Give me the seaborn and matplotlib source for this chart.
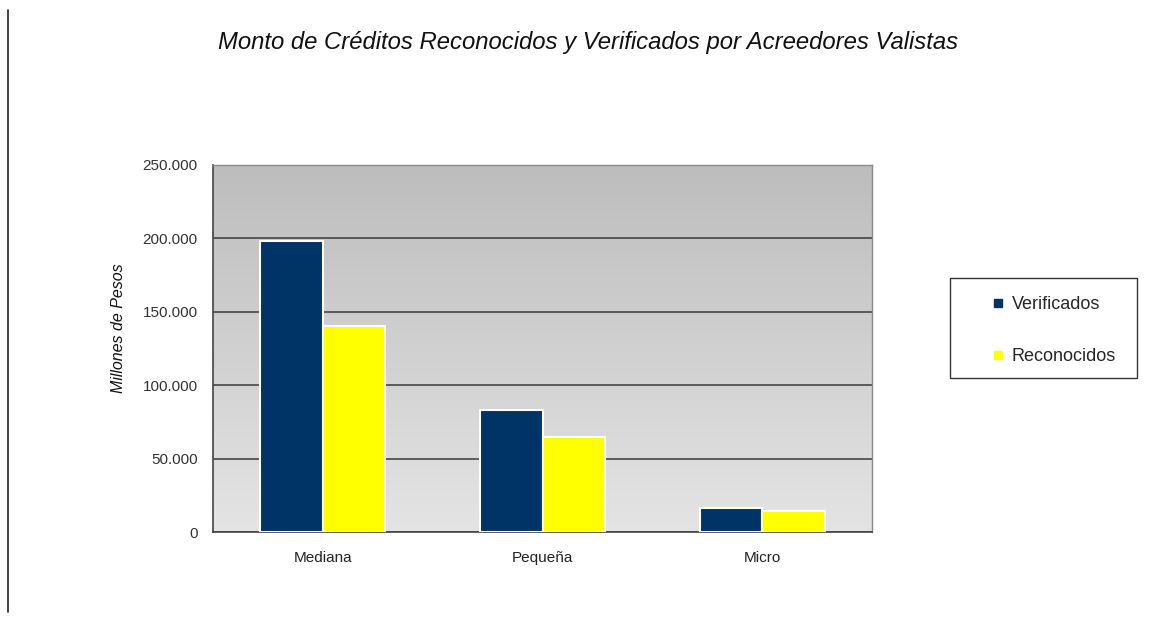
import numpy as np
import pandas as pd
import matplotlib
matplotlib.use("Agg")
import matplotlib.pyplot as plt
import matplotlib.ticker as mticker
from matplotlib.patches import Rectangle
from matplotlib.lines import Line2D
import seaborn as sns

# Data (millones de pesos)
categorias = ["Mediana", "Pequeña", "Micro"]
verificados = [198500, 83000, 16500]
reconocidos = [140000, 65000, 14500]
series = ["Verificados", "Reconocidos"]
colores = ["#003366", "#FFFF00"]
y_ticks = [0, 50000, 100000, 150000, 200000, 250000]

df = pd.DataFrame({
    "categoria": categorias * 2,
    "serie": [series[0]] * 3 + [series[1]] * 3,
    "monto": verificados + reconocidos,
})

sns.set_style("white")
plt.rcParams["font.family"] = ["Liberation Sans", "DejaVu Sans"]

fig = plt.figure(figsize=(11.54, 6.25), dpi=100)
ax = fig.add_axes([213 / 1154, 1 - 532 / 625, (872 - 213) / 1154, (532 - 165) / 625])

# gradient background of the plot area
grad = np.linspace(0, 1, 256).reshape(-1, 1)
cmap = matplotlib.colors.LinearSegmentedColormap.from_list("bg", ["#bdbdbd", "#e4e4e4"])
ax.imshow(grad, aspect="auto", cmap=cmap, extent=[0, 1, 0, 1],
          transform=ax.transAxes, zorder=-2, origin="upper")

sns.barplot(data=df, x="categoria", y="monto", hue="serie", order=categorias,
            hue_order=series, palette=colores, width=0.57, gap=0,
            edgecolor="white", linewidth=1.5, saturation=1, ax=ax, legend=False,
            zorder=3)

ax.set_xlim(-0.5, 2.5)
ax.set_ylim(0, 250000)
ax.set_yticks(y_ticks)
ax.yaxis.set_major_formatter(mticker.FuncFormatter(lambda v, p: f"{int(v):,}".replace(",", ".")))
ax.grid(axis="y", color="#3a3a3a", linewidth=1.1, zorder=1)
ax.set_axisbelow(True)

ax.set_xticks(range(len(categorias)))
ax.set_xticklabels(categorias)
ax.set_xticks([-0.5, 0.5, 1.5, 2.5], minor=True)
ax.tick_params(axis="x", which="major", length=0, pad=14, labelsize=11, labelcolor="#222222")
ax.tick_params(axis="x", which="minor", length=5, width=1, color="#444444", direction="out")
ax.tick_params(axis="y", length=5, width=1, color="#444444", direction="out", pad=6,
               labelsize=11, labelcolor="#333333")
ax.set_xlabel("")
ax.set_ylabel("Millones de Pesos", fontsize=11.5, style="italic", color="#111111")
ax.yaxis.set_label_coords(-0.132, 0.555)

for side in ["left", "bottom"]:
    ax.spines[side].set_color("#444444")
    ax.spines[side].set_linewidth(1.2)
for side in ["top", "right"]:
    ax.spines[side].set_color("#8a8a8a")
    ax.spines[side].set_linewidth(1)

fig.text(588 / 1154, 1 - 43 / 625, "Monto de Créditos Reconocidos y Verificados por Acreedores Valistas",
         ha="center", va="center", fontsize=17.2, style="italic", color="#111111")

# legend box
fig.patches.append(Rectangle((950 / 1154, 1 - 378 / 625), 187 / 1154, 100 / 625,
                             transform=fig.transFigure, facecolor="white",
                             edgecolor="#333333", linewidth=1))
handles = [Line2D([], [], marker="s", linestyle="", markersize=6, color=c) for c in colores]
fig.legend(handles, series, loc="upper left", bbox_to_anchor=(983 / 1154, 1 - 287 / 625),
           frameon=False, fontsize=13, handlelength=0.7, handletextpad=0.4,
           labelspacing=1.95, borderpad=0)

# page border line on the left
fig.add_artist(Line2D([8 / 1154, 8 / 1154], [1 - 612 / 625, 1 - 10 / 625],
                      transform=fig.transFigure, color="#222222", linewidth=1.2))

fig.savefig("out.png", dpi=100)
